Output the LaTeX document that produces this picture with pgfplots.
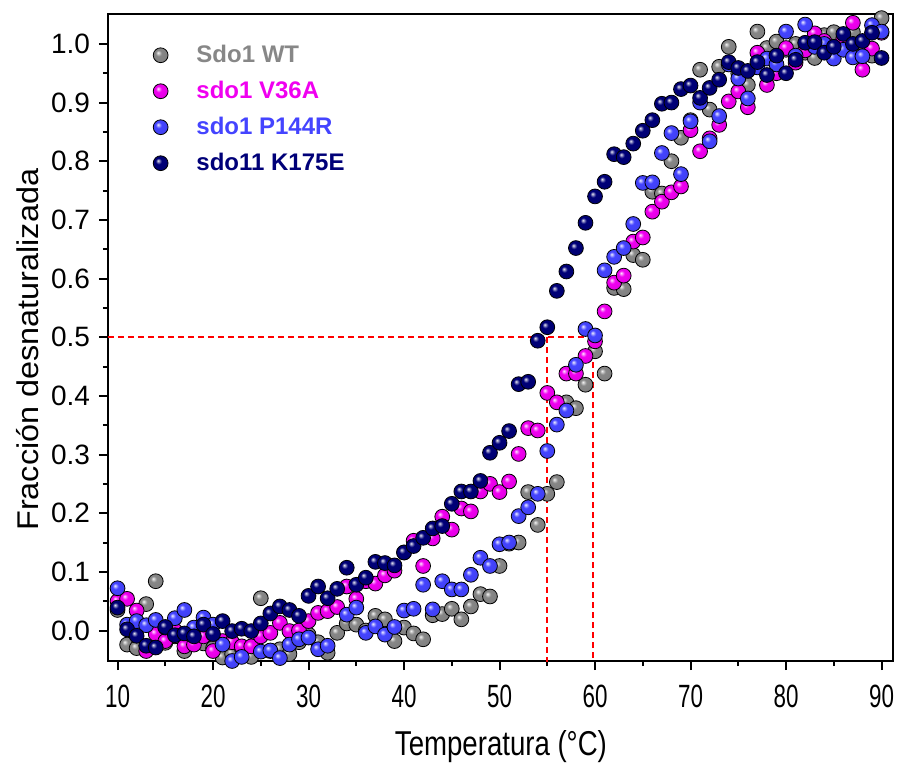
\documentclass[border=0pt]{standalone}
\usepackage{fontspec}
\setmainfont{Liberation Sans}
\usepackage{pgfplots}
\usepackage{pgfplotstable}
\pgfplotsset{compat=1.18}
\definecolor{cgray}{RGB}{135,135,135}
\definecolor{cmag}{RGB}{240,0,240}
\definecolor{cblue}{RGB}{68,68,255}
\definecolor{cnavy}{RGB}{0,0,120}
\makeatletter
\pgfdeclareradialshading[tikz@ball]{ball}{\pgfqpoint{-9bp}{9bp}}{%
  color(0bp)=(tikz@ball!10!white); color(4bp)=(tikz@ball!45!white);
  color(10bp)=(tikz@ball); color(26bp)=(tikz@ball!95!black);
  color(34bp)=(tikz@ball!80!black); color(50bp)=(tikz@ball!80!black)}
\makeatother

\pgfplotstableread{
T y
10 0.035
11 -0.024
12 -0.03
13 0.045
14 0.084
15 -0.021
16 -0.01
17 -0.035
18 -0.015
19 -0.022
20 -0.03
21 -0.046
22 -0.04
23 -0.03
24 -0.045
25 0.055
26 -0.035
27 -0.032
28 -0.04
29 -0.02
30 -0.007
31 -0.02
32 -0.038
33 -0.004
34 0.012
35 0.01
36 0.0
37 0.025
38 0.019
39 -0.018
40 0.005
41 -0.005
42 -0.015
43 0.026
44 0.028
45 0.037
46 0.019
47 0.041
48 0.062
49 0.058
50 0.11
51 0.148
52 0.15
53 0.236
54 0.18
55 0.233
56 0.253
57 0.389
58 0.379
59 0.419
60 0.476
61 0.438
62 0.584
63 0.582
64 0.64
65 0.632
66 0.748
67 0.745
68 0.80
69 0.84
70 0.87
71 0.956
72 0.888
73 0.961
74 0.995
75 0.95
76 0.93
77 1.021
78 0.993
79 1.004
80 0.99
81 1.0
82 0.985
83 0.976
84 1.015
85 1.02
86 1.0
87 1.02
88 1.0
89 0.98
90 1.044
}\wt

\pgfplotstableread{
T y
10 0.05
11 0.054
12 0.034
13 -0.035
14 -0.006
15 -0.018
16 0.0
17 -0.027
18 -0.024
19 -0.01
20 -0.035
21 -0.018
22 -0.02
23 -0.027
24 -0.027
25 -0.01
26 -0.004
27 0.013
28 -0.001
29 0.0
30 0.016
31 0.03
32 0.033
33 0.04
34 0.075
35 0.054
36 0.084
37 0.08
38 0.094
39 0.102
40 0.133
41 0.153
42 0.11
43 0.157
44 0.194
45 0.172
46 0.208
47 0.203
48 0.237
49 0.25
50 0.236
51 0.254
52 0.301
53 0.345
54 0.341
55 0.405
56 0.389
57 0.438
58 0.438
59 0.468
60 0.493
61 0.544
62 0.593
63 0.605
64 0.663
65 0.67
66 0.714
67 0.731
68 0.747
69 0.757
70 0.853
71 0.817
72 0.839
73 0.862
74 0.902
75 0.919
76 0.892
77 0.985
78 0.93
79 0.95
80 0.993
81 0.968
82 0.989
83 1.018
84 1.005
85 0.995
86 1.01
87 1.036
88 0.956
89 0.992
90 1.019
}\vtsa

\pgfplotstableread{
T y
10 0.072
11 0.01
12 0.016
13 0.009
14 0.018
15 0.005
16 0.021
17 0.035
18 0.005
19 0.022
20 0.01
21 -0.024
22 -0.052
23 -0.045
24 -0.055
25 -0.036
26 -0.034
27 -0.047
28 -0.024
29 -0.015
30 -0.012
31 -0.032
32 -0.026
33 -0.054
34 0.027
35 0.039
36 -0.004
37 0.007
38 -0.007
39 0.006
40 0.034
41 0.037
42 0.078
43 0.036
44 0.084
45 0.07
46 0.07
47 0.095
48 0.124
49 0.11
50 0.147
51 0.15
52 0.195
53 0.21
54 0.233
55 0.306
56 0.351
57 0.375
58 0.453
59 0.514
60 0.503
61 0.614
62 0.637
63 0.652
64 0.693
65 0.763
66 0.764
67 0.814
68 0.848
69 0.778
70 0.868
71 0.90
72 0.834
73 0.877
74 0.965
75 0.941
76 0.907
77 0.96
78 0.975
79 0.965
80 1.021
81 0.98
82 1.033
83 0.995
84 1.0
85 0.975
86 0.99
87 0.977
88 0.979
89 1.032
90 1.021
}\ponefour

\pgfplotstableread{
T y
10 0.039
11 0.002
12 -0.009
13 -0.026
14 -0.029
15 0.006
16 -0.008
17 -0.005
18 -0.01
19 0.01
20 -0.006
21 0.016
22 -0.001
23 0.003
24 -0.001
25 0.012
26 0.029
27 0.041
28 0.035
29 0.025
30 0.059
31 0.075
32 0.055
33 0.071
34 0.107
35 0.078
36 0.09
37 0.117
38 0.115
39 0.111
40 0.133
41 0.144
42 0.158
43 0.174
44 0.178
45 0.216
46 0.237
47 0.237
48 0.255
49 0.303
50 0.32
51 0.34
52 0.42
53 0.424
54 0.494
55 0.517
56 0.579
57 0.612
58 0.652
59 0.695
60 0.74
61 0.765
62 0.812
63 0.807
64 0.83
65 0.852
66 0.87
67 0.898
68 0.90
69 0.923
70 0.929
71 0.908
72 0.925
73 0.939
74 0.969
75 0.959
76 0.954
77 0.969
78 0.947
79 0.98
80 0.95
81 0.973
82 1.002
83 1.003
84 0.985
85 0.995
86 1.017
87 1.0
88 1.005
89 1.019
90 0.976
}\kone

\begin{document}
\begin{tikzpicture}
\useasboundingbox (-54pt,-50.7pt) rectangle (396.5pt,330.5pt);
\begin{axis}[
  scale only axis,
  width=392.5pt, height=323.5pt,
  xmin=9, xmax=91.2, ymin=-0.052, ymax=1.051,
  xtick={10,20,30,40,50,60,70,80,90},
  ytick={0,0.1,0.2,0.3,0.4,0.5,0.6,0.7,0.8,0.9,1.0},
  minor x tick num=1, minor y tick num=1,
  tick pos=left, tick align=outside,
  major tick length=4.5pt, minor tick length=2.5pt,
  every tick/.style={black, line width=1pt},
  axis line style={line width=1.1pt},
  /pgf/number format/assume math mode=true,
  yticklabel style={/pgf/number format/fixed, /pgf/number format/fixed zerofill,
    /pgf/number format/precision=1, font=\fontsize{14}{16}\selectfont, xshift=-1pt},
  xticklabel={\scalebox{0.8}[1.15]{\pgfmathprintnumber{\tick}}},
  xticklabel style={font=\fontsize{14}{16}\selectfont, yshift=-4pt},
  xlabel={\scalebox{0.92}[1.15]{Temperatura (°C)}},
  ylabel={\scalebox{1.08}[1]{Fracción desnaturalizada}},
  xlabel style={font=\fontsize{15}{17}\selectfont, at={(axis description cs:0.5006,-0.132)}, anchor=center},
  ylabel style={font=\fontsize{15}{17}\selectfont, at={(axis description cs:-0.102,0.481)}, anchor=center, rotate=0},
  legend style={at={(axis description cs:0.049,0.965)}, anchor=north west, draw=none, fill=none,
    font=\fontsize{12}{14}\selectfont\bfseries, row sep=3.8pt},
  legend cell align=left,
  clip=true,
]
\addplot[only marks, mark=ball, mark size=3.7pt, mark options={ball color=cgray}] table[x=T,y=y] {\wt};
\addlegendentry{\hspace*{12pt}\textcolor{cgray}{Sdo1 WT}}
\addplot[only marks, mark=ball, mark size=3.7pt, mark options={ball color=cmag}] table[x=T,y=y] {\vtsa};
\addlegendentry{\hspace*{12pt}\textcolor{cmag}{sdo1 V36A}}
\addplot[only marks, mark=ball, mark size=3.7pt, mark options={ball color=cblue}] table[x=T,y=y] {\ponefour};
\addlegendentry{\hspace*{12pt}\textcolor{cblue}{sdo1 P144R}}
\addplot[only marks, mark=ball, mark size=3.7pt, mark options={ball color=cnavy}] table[x=T,y=y] {\kone};
\addlegendentry{\hspace*{12pt}\textcolor{cnavy}{sdo11 K175E}}
\addplot[red, line width=0.8pt, dash pattern=on 3pt off 2pt, forget plot] coordinates {(9,0.5) (59.8,0.5) (59.8,-0.06)};
\addplot[red, line width=0.8pt, dash pattern=on 3pt off 2pt, forget plot] coordinates {(55,0.5) (55,-0.06)};
\end{axis}
\end{tikzpicture}
\end{document}
